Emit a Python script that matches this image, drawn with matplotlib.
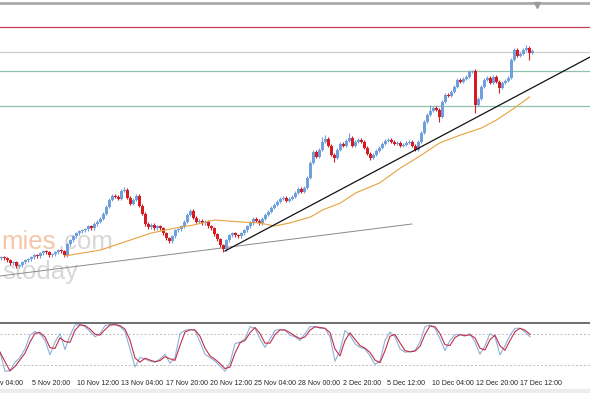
import numpy as np
import pandas as pd
import matplotlib
matplotlib.use("Agg")
import matplotlib.pyplot as plt
from matplotlib.patches import Rectangle
import matplotlib.transforms as mtransforms

# closing prices (chart units, height above the bottom of the price pane)
closes = [63, 62, 60, 57, 58, 54, 55, 58, 60, 61,
          63, 65, 64, 67, 69, 68, 65, 66, 68, 70,
          69, 65, 76, 80, 84, 87, 89, 90, 91, 94,
          92, 96, 98, 101, 106, 113, 120, 124, 123, 121,
          129, 130, 122, 116, 120, 124, 114, 106, 96, 93,
          95, 92, 94, 92, 87, 82, 79, 84, 90, 91,
          94, 98, 105, 109, 102, 98, 99, 97, 98, 94,
          92, 86, 81, 75, 71, 80, 85, 87, 85, 84,
          87, 90, 94, 97, 101, 99, 97, 101, 105, 108,
          112, 115, 118, 121, 122, 119, 121, 123, 127, 131,
          128, 132, 142, 157, 168, 163, 170, 178, 181, 174,
          165, 162, 170, 176, 174, 179, 182, 174, 178, 180,
          178, 172, 166, 162, 165, 169, 172, 176, 179, 180,
          178, 176, 177, 174, 175, 177, 178, 174, 170, 178,
          187, 198, 205, 209, 212, 210, 203, 218, 225, 224,
          228, 233, 240, 238, 241, 243, 248, 249, 215, 221,
          233, 240, 242, 237, 243, 238, 232, 237, 239, 242,
          260, 270, 264, 266, 270, 272, 267, 269]
first_open = 62

# notable wick extremes {bar: price}
high_marks = {41: 133, 107: 183, 108: 185, 116: 187, 143: 215, 157: 250, 175: 275}
low_marks = {5: 52, 74: 68, 111: 158, 123: 160, 146: 198, 158: 207, 166: 227, 176: 260}

# moving average (bar, value)
ma_bar = [21, 33, 40, 50, 58, 64, 71, 80, 86, 91, 96, 103, 107, 113, 118, 126,
          133, 140, 146, 153, 160, 165, 171, 176]
ma_val = [64, 70, 77, 87, 92, 95, 100, 98, 97, 94, 97, 103, 110, 117, 127, 137,
          152, 165, 177, 185, 192, 200, 212, 223]

# horizontal levels
red_level = 293
gray_level = 268
green_levels = [249, 214]

# trend lines (bar, price)
trend_black = ([74.5, 196.2], [69, 263])
trend_gray = ([-0.5, 136.8], [44, 96])

# stochastic %K, one reading every 5/3 bar
stoch_k = [45, 9, 10, 26, 35, 51, 77, 84, 80, 67, 40, 64, 80, 50, 77, 96, 97, 93,
           84, 74, 80, 95, 97, 97, 93, 84, 51, 17, 35, 32, 28, 26, 32, 41, 24, 35,
           80, 86, 88, 86, 64, 41, 35, 28, 19, 9, 25, 61, 64, 70, 93, 90, 70, 54,
           70, 86, 88, 86, 77, 74, 67, 80, 93, 93, 90, 90, 74, 28, 48, 86, 77, 61,
           54, 51, 38, 22, 28, 67, 83, 74, 51, 45, 46, 48, 64, 93, 96, 90, 70, 48,
           67, 78, 78, 75, 80, 64, 41, 57, 80, 74, 40, 57, 77, 90, 90, 83, 74]

time_labels = ["v 04:00", "5 Nov 20:00", "10 Nov 12:00", "13 Nov 04:00", "17 Nov 20:00",
               "20 Nov 12:00", "25 Nov 04:00", "28 Nov 00:00", "2 Dec 20:00",
               "5 Dec 12:00", "10 Dec 04:00", "12 Dec 20:00", "17 Dec 12:00"]
label_bars = [-0.5, 10.2, 25.2, 39.8, 54.8, 69.5, 84.2, 98.8, 113.8, 128.5, 143.5, 158.2, 172.8]

H = 393.0
UP = "#6f9fdc"
DOWN = "#d41c22"

fig = plt.figure(figsize=(5.9, 3.93), dpi=100)
fig.patches.append(Rectangle((0, 0), 1, 4.5 / H, transform=fig.transFigure,
                             color="#ececec", zorder=0))


def pane(top, bottom):
    return [0, 1 - bottom / H, 1, (bottom - top) / H]


ax = fig.add_axes(pane(3, 320))
st = fig.add_axes(pane(323, 376))
xlim = (-0.5, 196.17)

# watermark
wm_font = dict(family="Liberation Sans", fontsize=18.5, transform=ax.transAxes, zorder=0)
ax.text(1 / 590, (320 - 249) / 317, "mies", color="#f5c6a8", **wm_font)
ax.text(58 / 590, (320 - 249) / 317, ".com", color="#dad7d7", **wm_font)
ax.text(2 / 590, (320 - 279) / 317, "stoday", color="#d8d8d8", **wm_font)

# candles
c = np.array(closes, dtype=float)
o = np.r_[first_open, c[:-1]]
idx = np.arange(len(c))
hi = np.maximum(o, c) + 1.5
lo = np.minimum(o, c) - 1.5
for k, v in high_marks.items():
    hi[k] = v
for k, v in low_marks.items():
    lo[k] = v
cols = np.where(c >= o, UP, DOWN)
ax.vlines(idx, lo, hi, colors=cols, lw=0.8, zorder=3)
body = np.maximum(np.abs(c - o), 1.0)
ax.bar(idx, body, bottom=np.minimum(o, c), width=0.72, color=cols, lw=0, zorder=4)

ax.axhline(red_level, color="#c43c5c", lw=0.9, zorder=2)
ax.axhline(gray_level, color="#cfcfcf", lw=0.9, zorder=2)
for g in green_levels:
    ax.axhline(g, color="#8fc2a8", lw=0.9, zorder=2)

ax.plot(ma_bar, ma_val, color="#e6a23c", lw=0.8, zorder=5)
ax.plot(*trend_black, color="#111111", lw=0.9, zorder=6)
ax.plot(*trend_gray, color="#8a8a8a", lw=0.7, zorder=2)
ax.plot([178.5], [315], marker="v", color="#9a9a9a", ms=4, clip_on=False, zorder=7)

ax.set_xlim(*xlim)
ax.set_ylim(0, 317)
ax.set_xticks([])
ax.set_yticks([])
for side in ["left", "right", "bottom"]:
    ax.spines[side].set_visible(False)
ax.spines["top"].set_color("#aaaaaa")
ax.spines["top"].set_linewidth(2)

# stochastic pane
k_bars = (np.arange(len(stoch_k)) * 5 - 1.5) / 3
stoch_d = pd.Series(stoch_k, dtype=float).rolling(2, min_periods=1).mean()
st.axhline(80, color="#bdbdbd", lw=0.7, ls=(0, (2, 2)))
st.axhline(20, color="#bdbdbd", lw=0.7, ls=(0, (2, 2)))
st.plot(k_bars, stoch_k, color="#8fb0d8", lw=0.8)
st.plot(k_bars, stoch_d, color="#c0304a", lw=0.8)
st.set_xlim(*xlim)
st.set_ylim(0, 100)
st.set_xticks([])
st.set_yticks([])
for side in ["left", "right", "bottom"]:
    st.spines[side].set_visible(False)
st.spines["top"].set_color("#555555")
st.spines["top"].set_linewidth(1.2)

trans = mtransforms.blended_transform_factory(st.transData, st.transAxes)
for b, lab in zip(label_bars, time_labels):
    st.text(b, -0.135, lab, transform=trans, ha="left", va="center",
            fontsize=5, family="Liberation Sans", color="#222222", clip_on=False)

fig.savefig("out.png", dpi=100)
